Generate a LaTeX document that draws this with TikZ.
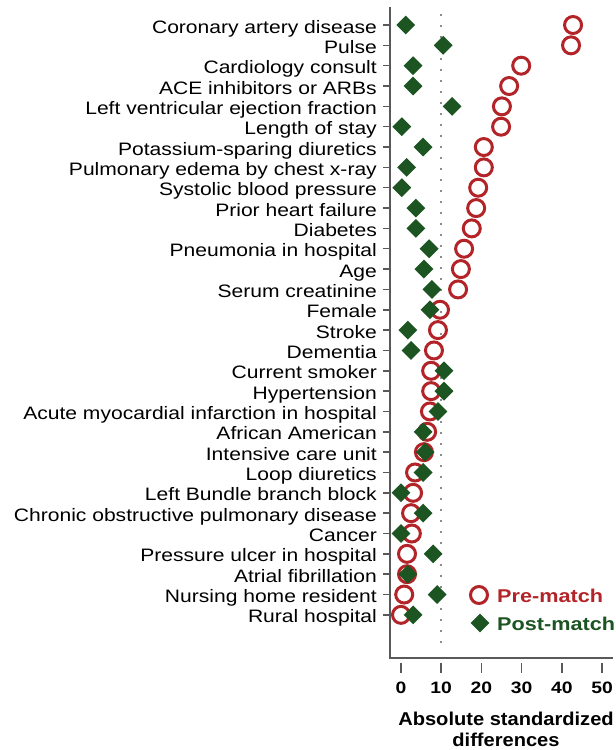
\documentclass[tikz,border=0pt]{standalone}
\usepackage{fontspec}
\usepackage{tikz}
\usetikzlibrary{shapes.geometric,positioning}
\newfontfamily\plotfont{Liberation Sans}[FakeStretch=1.17]
\newfontfamily\titlefont{Liberation Sans}[FakeStretch=1.08]
\definecolor{prered}{RGB}{178,36,40}
\definecolor{postgreen}{RGB}{28,84,34}

\def\rows{1/Coronary artery disease/42.8/1.2,
  2/Pulse/42.3/10.5,
  3/Cardiology consult/29.9/3.0,
  4/ACE inhibitors or ARBs/26.9/3.0,
  5/Left ventricular ejection fraction/25.1/12.7,
  6/Length of stay/24.9/0.2,
  7/Potassium-sparing diuretics/20.6/5.5,
  8/Pulmonary edema by chest x-ray/20.6/1.4,
  9/Systolic blood pressure/19.2/0.2,
  10/Prior heart failure/18.7/3.7,
  11/Diabetes/17.6/3.7,
  12/Pneumonia in hospital/15.7/7.0,
  13/Age/14.9/5.7,
  14/Serum creatinine/14.2/7.7,
  15/Female/9.7/7.2,
  16/Stroke/9.2/1.7,
  17/Dementia/8.2/2.5,
  18/Current smoker/7.5/10.7,
  19/Hypertension/7.5/10.7,
  20/Acute myocardial infarction in hospital/7.2/9.2,
  21/African American/6.5/5.5,
  22/Intensive care unit/5.7/6.0,
  23/Loop diuretics/3.5/5.5,
  24/Left Bundle branch block/3.0/0,
  25/Chronic obstructive pulmonary disease/2.5/5.5,
  26/Cancer/2.7/0,
  27/Pressure ulcer in hospital/1.5/8.0,
  28/Atrial fibrillation/1.5/1.7,
  29/Nursing home resident/0.8/9.0,
  30/Rural hospital/0/3.0}

\begin{document}
\begin{tikzpicture}[x=1pt, y=-1pt,
  prem/.style={draw=prered, circle, line width=3pt, minimum size=17pt, inner sep=0pt},
  postm/.style={fill=postgreen, diamond, minimum size=19pt, inner sep=0pt},
  varlab/.style={anchor=base east, inner sep=0pt, font=\plotfont\fontsize{18}{20}\selectfont},
  ticklab/.style={anchor=base, inner sep=0pt, font=\plotfont\bfseries\fontsize{16.5}{18}\selectfont},
  leglab/.style={anchor=base west, inner sep=0pt, font=\plotfont\bfseries\fontsize{18.5}{20}\selectfont},
  axisline/.style={draw=black!65, line width=1.5pt}]

  \useasboundingbox (0,0) rectangle (616,750);

  \def \xzero {401}   % x of the value 0
  \def \xunit {4.02}  % length of one unit
  \def \ytop {25}     % first row
  \def \ystep {20.34} % distance of the rows

  % axes and the 10 line
  \draw[axisline] (390,7) -- (390,658) -- (613,658);
  \draw[black!45, line width=2pt, dash pattern=on 2pt off 9pt]
    ({\xzero+10*\xunit},14) -- ({\xzero+10*\xunit},650);

  \foreach \v in {0,10,...,50} {
    \draw[axisline] ({\xzero+\v*\xunit},663) -- ({\xzero+\v*\xunit},673);
    \node[ticklab] (tick\v) at ({\xzero+\v*\xunit},693) {\v};
  }

  \node[anchor=base, inner sep=0pt, font=\titlefont\bfseries\fontsize{18.6}{20}\selectfont]
    (xtitle) at (506,725) {Absolute standardized};
  \node[anchor=base, inner sep=0pt, font=\titlefont\bfseries\fontsize{18.6}{20}\selectfont]
    (xtitle2) at (506,746) {differences};

  % labels, ticks and pre-match circles
  \foreach \i/\name/\pre/\post in \rows {
    \pgfmathsetmacro{\y}{\ytop+(\i-1)*\ystep}
    \draw[axisline] (383,\y) -- (390,\y);
    \node[varlab] (lab\i) at (377,\y+8) {\name};
    \node[prem] (pre\i) at ({\xzero+\pre*\xunit},\y) {};
  }

  % post-match diamonds on top
  \foreach \i/\name/\pre/\post in \rows {
    \pgfmathsetmacro{\y}{\ytop+(\i-1)*\ystep}
    \node[postm] (post\i) at ({\xzero+\post*\xunit},\y) {};
  }

  % legend
  \node[prem] (legpre) at (479,595) {};
  \node[leglab, text=prered] (legpretxt) at (497,602) {Pre-match};
  \node[postm] (legpost) at (480,623) {};
  \node[leglab, text=postgreen] (legposttxt) at (497,630) {Post-match};
\end{tikzpicture}
\end{document}
